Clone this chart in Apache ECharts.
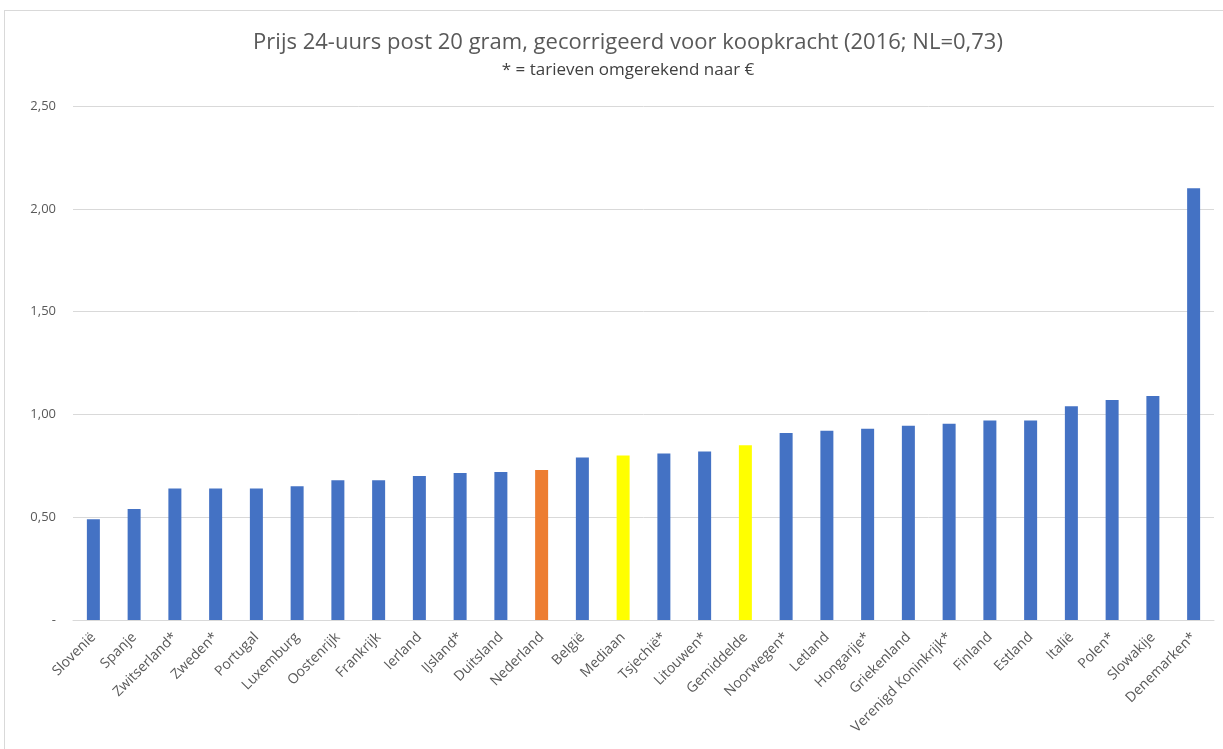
<!DOCTYPE html>
<html>
<head>
<meta charset="utf-8">
<script src="https://cdn.jsdelivr.net/npm/echarts@6/dist/echarts.min.js"></script>
<style>
  html, body { margin: 0; padding: 0; background: #fff; overflow: hidden; }
  #frame { position: absolute; left: 4px; top: 10px; width: 1240px; height: 760px; border: 1px solid #d9d9d9; }
  #myChart { position: absolute; left: 0; top: 0; width: 1223px; height: 749px; }
</style>
</head>
<body>
<div id="frame"></div>
<div id="myChart"></div>
<script type="text/javascript">
  var landen = ['Slovenië', 'Spanje', 'Zwitserland*', 'Zweden*', 'Portugal', 'Luxemburg', 'Oostenrijk', 'Frankrijk',
    'Ierland', 'IJsland*', 'Duitsland', 'Nederland', 'België', 'Mediaan', 'Tsjechië*', 'Litouwen*', 'Gemiddelde',
    'Noorwegen*', 'Letland', 'Hongarije*', 'Griekenland', 'Verenigd Koninkrijk*', 'Finland', 'Estland', 'Italië',
    'Polen*', 'Slowakije', 'Denemarken*'];
  var prijzen = [0.49, 0.54, 0.64, 0.64, 0.64, 0.65, 0.68, 0.68, 0.70, 0.715, 0.72, 0.73, 0.79, 0.80, 0.81, 0.82, 0.85,
    0.91, 0.92, 0.93, 0.945, 0.955, 0.97, 0.97, 1.04, 1.07, 1.09, 2.10];
  var kleuren = { 'Nederland': '#ED7D31', 'Mediaan': '#FFFF00', 'Gemiddelde': '#FFFF00' };

  var myChart = echarts.init(document.getElementById('myChart'));
  var option = {
    animation: false,
    textStyle: { fontFamily: 'Open Sans' },
    title: {
      text: 'Prijs 24-uurs post 20 gram, gecorrigeerd voor koopkracht (2016; NL=0,73)',
      subtext: '* = tarieven omgerekend naar €',
      left: 623,
      textAlign: 'center',
      top: 27,
      itemGap: 8,
      textStyle: { color: '#595959', fontSize: 22, fontWeight: 'normal', fontFamily: 'Open Sans' },
      subtextStyle: { color: '#404040', fontSize: 17, fontFamily: 'Open Sans' }
    },
    grid: { left: 73, right: 9, top: 106, bottom: 129, containLabel: false },
    xAxis: {
      type: 'category',
      data: landen,
      axisTick: { show: false },
      axisLine: { lineStyle: { color: '#d9d9d9' } },
      axisLabel: { rotate: 45, color: '#595959', fontSize: 14, interval: 0, margin: 15 }
    },
    yAxis: {
      type: 'value',
      min: 0,
      max: 2.5,
      interval: 0.5,
      axisLine: { show: false },
      axisTick: { show: false },
      splitLine: { lineStyle: { color: '#d9d9d9' } },
      axisLabel: {
        color: '#595959', fontSize: 13, margin: 17,
        formatter: function (v) { return v === 0 ? '-' : v.toFixed(2).replace('.', ','); }
      }
    },
    series: [{
      type: 'bar',
      barWidth: 13,
      data: prijzen.map(function (v, i) {
        return { value: v, itemStyle: { color: kleuren[landen[i]] || '#4472C4' } };
      })
    }]
  };
  myChart.setOption(option);
</script>
</body>
</html>
